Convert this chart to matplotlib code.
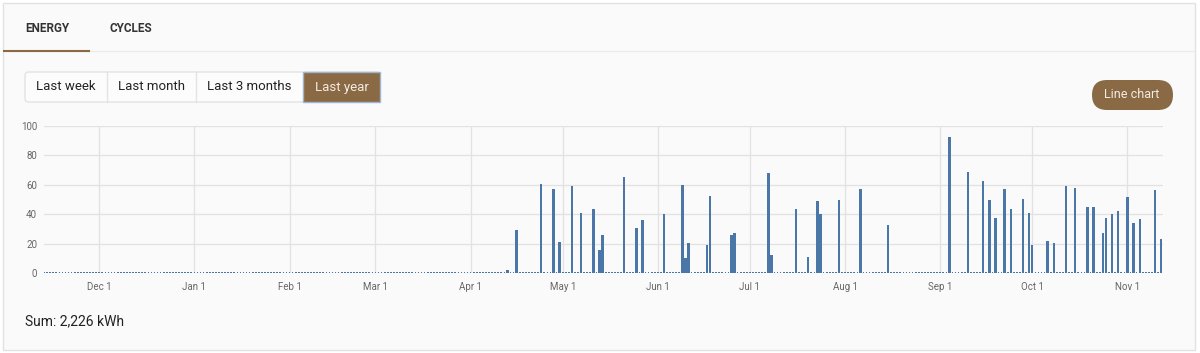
import matplotlib.pyplot as plt
import matplotlib.dates as mdates
from matplotlib.patches import FancyBboxPatch, Rectangle
from matplotlib.lines import Line2D
import pandas as pd

plt.rcParams['font.family'] = ['Roboto', 'DejaVu Sans']

# daily energy (kWh) on the days the car was charged
charge_dates = [
    '2023-04-13', '2023-04-16', '2023-04-24', '2023-04-28', '2023-04-30',
    '2023-05-04', '2023-05-07', '2023-05-11', '2023-05-13', '2023-05-14',
    '2023-05-21', '2023-05-25', '2023-05-27', '2023-06-03', '2023-06-09',
    '2023-06-10', '2023-06-11', '2023-06-17', '2023-06-18', '2023-06-25',
    '2023-06-26', '2023-07-07', '2023-07-08', '2023-07-16', '2023-07-20',
    '2023-07-23', '2023-07-24', '2023-07-30', '2023-08-06', '2023-08-15',
    '2023-09-04', '2023-09-10', '2023-09-15', '2023-09-17', '2023-09-19',
    '2023-09-22', '2023-09-24', '2023-09-28', '2023-09-30', '2023-10-01',
    '2023-10-06', '2023-10-08', '2023-10-12', '2023-10-15', '2023-10-19',
    '2023-10-21', '2023-10-24', '2023-10-25', '2023-10-27', '2023-10-29',
    '2023-11-01', '2023-11-03', '2023-11-05', '2023-11-10', '2023-11-12',
]
charge_kwh = [
    2, 29.5, 60.5, 57.5, 21.5,
    59.5, 41, 43.5, 15.5, 26,
    65.5, 31, 36, 40, 60,
    10.5, 20.5, 19.5, 52.5, 26,
    27.5, 68, 12.5, 43.5, 11,
    49, 40.5, 49.5, 57, 32.5,
    92.5, 69, 63, 49.5, 37.5,
    57, 43.5, 50.5, 41, 19.5,
    22, 20.5, 59, 58, 45,
    45, 27.5, 37.5, 40.5, 42.5,
    52, 34, 37, 56.5, 23,
]
period_start = '2022-11-13'
period_end = '2023-11-12'
y_ticks = [0, 20, 40, 60, 80, 100]
range_buttons = ['Last week', 'Last month', 'Last 3 months', 'Last year']
sum_label = 'Sum: 2,226 kWh'

W, H = 1200, 353
brown = '#8a6a45'
bar_color = '#4a76a8'
text_dark = '#333333'

fig = plt.figure(figsize=(W / 100, H / 100), dpi=100, facecolor='#ffffff')


def fx(px):
    return px / W


def fy(py):
    return 1 - py / H


# panel (behind everything)
fig.patches.append(Rectangle((fx(3), fy(350)), fx(1192), 347 / H, transform=fig.transFigure,
                             facecolor='#fafafa', edgecolor='#e2e2e2', lw=1, zorder=-10))

# tabs
fig.text(fx(47), fy(29), 'ENERGY', ha='center', va='center', fontsize=8.5,
         fontweight='bold', color=text_dark)
fig.text(fx(131), fy(29), 'CYCLES', ha='center', va='center', fontsize=8.5,
         fontweight='bold', color=text_dark)
fig.lines.append(Line2D([fx(4), fx(1194)], [fy(51), fy(51)], transform=fig.transFigure,
                        color='#ececec', lw=1))
fig.lines.append(Line2D([fx(4), fx(89)], [fy(51), fy(51)], transform=fig.transFigure,
                        color=brown, lw=1.5))

# range buttons
edges = [25, 107, 196, 303, 380]
fig.patches.append(FancyBboxPatch((fx(25), fy(102)), fx(355), 30 / H,
                                  boxstyle='round,pad=0,rounding_size=0.003',
                                  mutation_aspect=W / H,
                                  transform=fig.transFigure, facecolor='#fcfcfc',
                                  edgecolor='#e3e3e3', lw=1))
for i, label in enumerate(range_buttons):
    x0, x1 = edges[i], edges[i + 1]
    active = i == len(range_buttons) - 1
    if active:
        fig.patches.append(Rectangle((fx(x0), fy(102)), fx(x1 - x0), 30 / H,
                                     transform=fig.transFigure, facecolor=brown,
                                     edgecolor='#9fb4d0', lw=1))
    elif i > 0:
        fig.lines.append(Line2D([fx(x0), fx(x0)], [fy(72), fy(102)],
                                transform=fig.transFigure, color='#e3e3e3', lw=1))
    fig.text(fx((x0 + x1) / 2), fy(87), label, ha='center', va='center', fontsize=9.5,
             color='#f3ece2' if active else '#222222')

# line chart pill
fig.patches.append(FancyBboxPatch((fx(1092), fy(110)), fx(81), 30 / H,
                                  boxstyle='round,pad=0,rounding_size=0.0125',
                                  mutation_aspect=W / H,
                                  transform=fig.transFigure, facecolor=brown,
                                  edgecolor='none'))
fig.text(fx(1132), fy(95), 'Line chart', ha='center', va='center', fontsize=9,
         color='#f3ece2')

# chart
ax = fig.add_axes([fx(44), fy(273.3), fx(1163 - 44), (273.3 - 126) / H])
ax.set_facecolor('none')

days = pd.date_range(period_start, period_end, freq='D')
daily = pd.Series(0.0, index=days)
daily[pd.to_datetime(charge_dates)] = charge_kwh

ax.bar(daily.index, daily.values, width=0.78, color=bar_color, zorder=3)
# zero days get a minimum-height column, which reads as a dotted baseline
zero_days = daily.index[daily.values == 0]
ax.bar(zero_days, [1.0] * len(zero_days), width=0.55, color=bar_color, zorder=3)

ax.set_xlim(pd.Timestamp(period_start),
            pd.Timestamp(period_end) + pd.Timedelta(hours=14))
ax.set_ylim(0, 100)
ax.set_yticks(y_ticks)
ax.xaxis.set_major_locator(mdates.MonthLocator(bymonthday=1))
ax.xaxis.set_major_formatter(mdates.DateFormatter('%b %-d'))
ax.grid(True, color='#e2e2e2', lw=0.9, zorder=0)
ax.tick_params(length=0, labelsize=7, colors='#666666')
ax.tick_params(axis='y', pad=5)
ax.tick_params(axis='x', pad=6)
for s in ax.spines.values():
    s.set_visible(False)

fig.text(fx(25), fy(321), sum_label, ha='left', va='center', fontsize=10, color='#222222')

fig.savefig('out.png', dpi=100, facecolor=fig.get_facecolor())
